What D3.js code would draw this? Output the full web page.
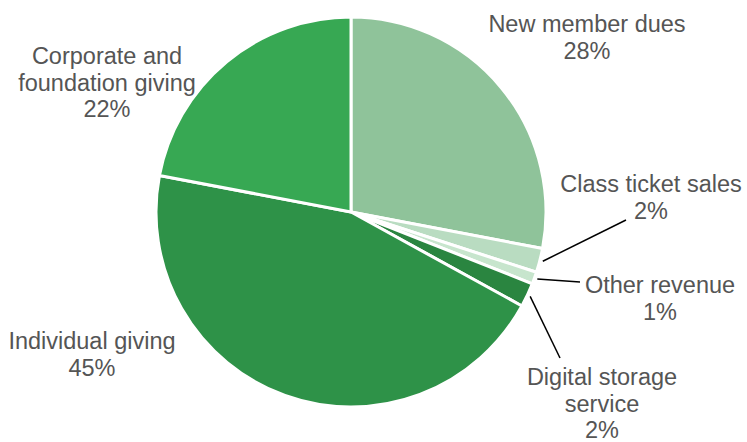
<!DOCTYPE html>
<html>
<head>
<meta charset="utf-8">
<script src="https://cdn.jsdelivr.net/npm/d3@7/dist/d3.min.js"></script>
<style>
  html, body { margin: 0; padding: 0; background: #fff; }
  svg text { font-family: "Liberation Sans", Arial, sans-serif; font-size: 23.5px; fill: #555555; }
</style>
</head>
<body>
<svg id="chart" width="747" height="442"></svg>
<script>
// Revenue sources, clockwise from 12 o'clock
const categories = ["New member dues", "Class ticket sales", "Other revenue",
                    "Digital storage service", "Individual giving", "Corporate and foundation giving"];
const shares = [28, 2, 1, 2, 45, 22];
const colors = ["#8fc39a", "#b9dcc1", "#c7e5cd", "#2a8540", "#2e9248", "#37a853"];

// Label layout: text lines, anchor centre, and whether a leader line is drawn
const labelLines = [
  ["New member dues"],
  ["Class ticket sales"],
  ["Other revenue"],
  ["Digital storage", "service"],
  ["Individual giving"],
  ["Corporate and", "foundation giving"]
];
const labelPos = [[587, 32], [651, 192], [660, 293], [602, 385], [92, 349], [107, 64]];
const leaderEnd = [null, [626, 220], [580, 282], [560, 358], null, null];

const svg = d3.select("#chart");
const cx = 351, cy = 212, radius = 195;
const g = svg.append("g").attr("transform", `translate(${cx},${cy})`);

const data = categories.map((c, i) => ({ name: c, value: shares[i], i }));
const pie = d3.pie().value(d => d.value).sort(null);
const arcs = pie(data);
const arc = d3.arc().innerRadius(0).outerRadius(radius);

g.selectAll("path.slice")
  .data(arcs)
  .join("path")
  .attr("class", "slice")
  .attr("d", arc)
  .attr("fill", d => colors[d.data.i])
  .attr("stroke", "#fff")
  .attr("stroke-width", 3)
  .attr("stroke-linejoin", "round");

// Leader lines from just outside the rim to the label
const rim = d3.arc().innerRadius(radius + 3).outerRadius(radius + 3);
arcs.forEach(a => {
  const end = leaderEnd[a.data.i];
  if (!end) return;
  const [sx, sy] = rim.centroid(a);
  svg.append("line")
    .attr("x1", cx + sx).attr("y1", cy + sy)
    .attr("x2", end[0]).attr("y2", end[1])
    .attr("stroke", "#000").attr("stroke-width", 1.5);
});

// Category labels with percentages
const lineH = 26.5;
data.forEach(d => {
  const [x, y] = labelPos[d.i];
  const lines = labelLines[d.i].concat([d.value + "%"]);
  const t = svg.append("text")
    .attr("text-anchor", "middle")
    .attr("x", x).attr("y", y);
  lines.forEach((ln, k) => {
    t.append("tspan").attr("x", x).attr("y", y + k * lineH).text(ln);
  });
});
</script>
</body>
</html>
